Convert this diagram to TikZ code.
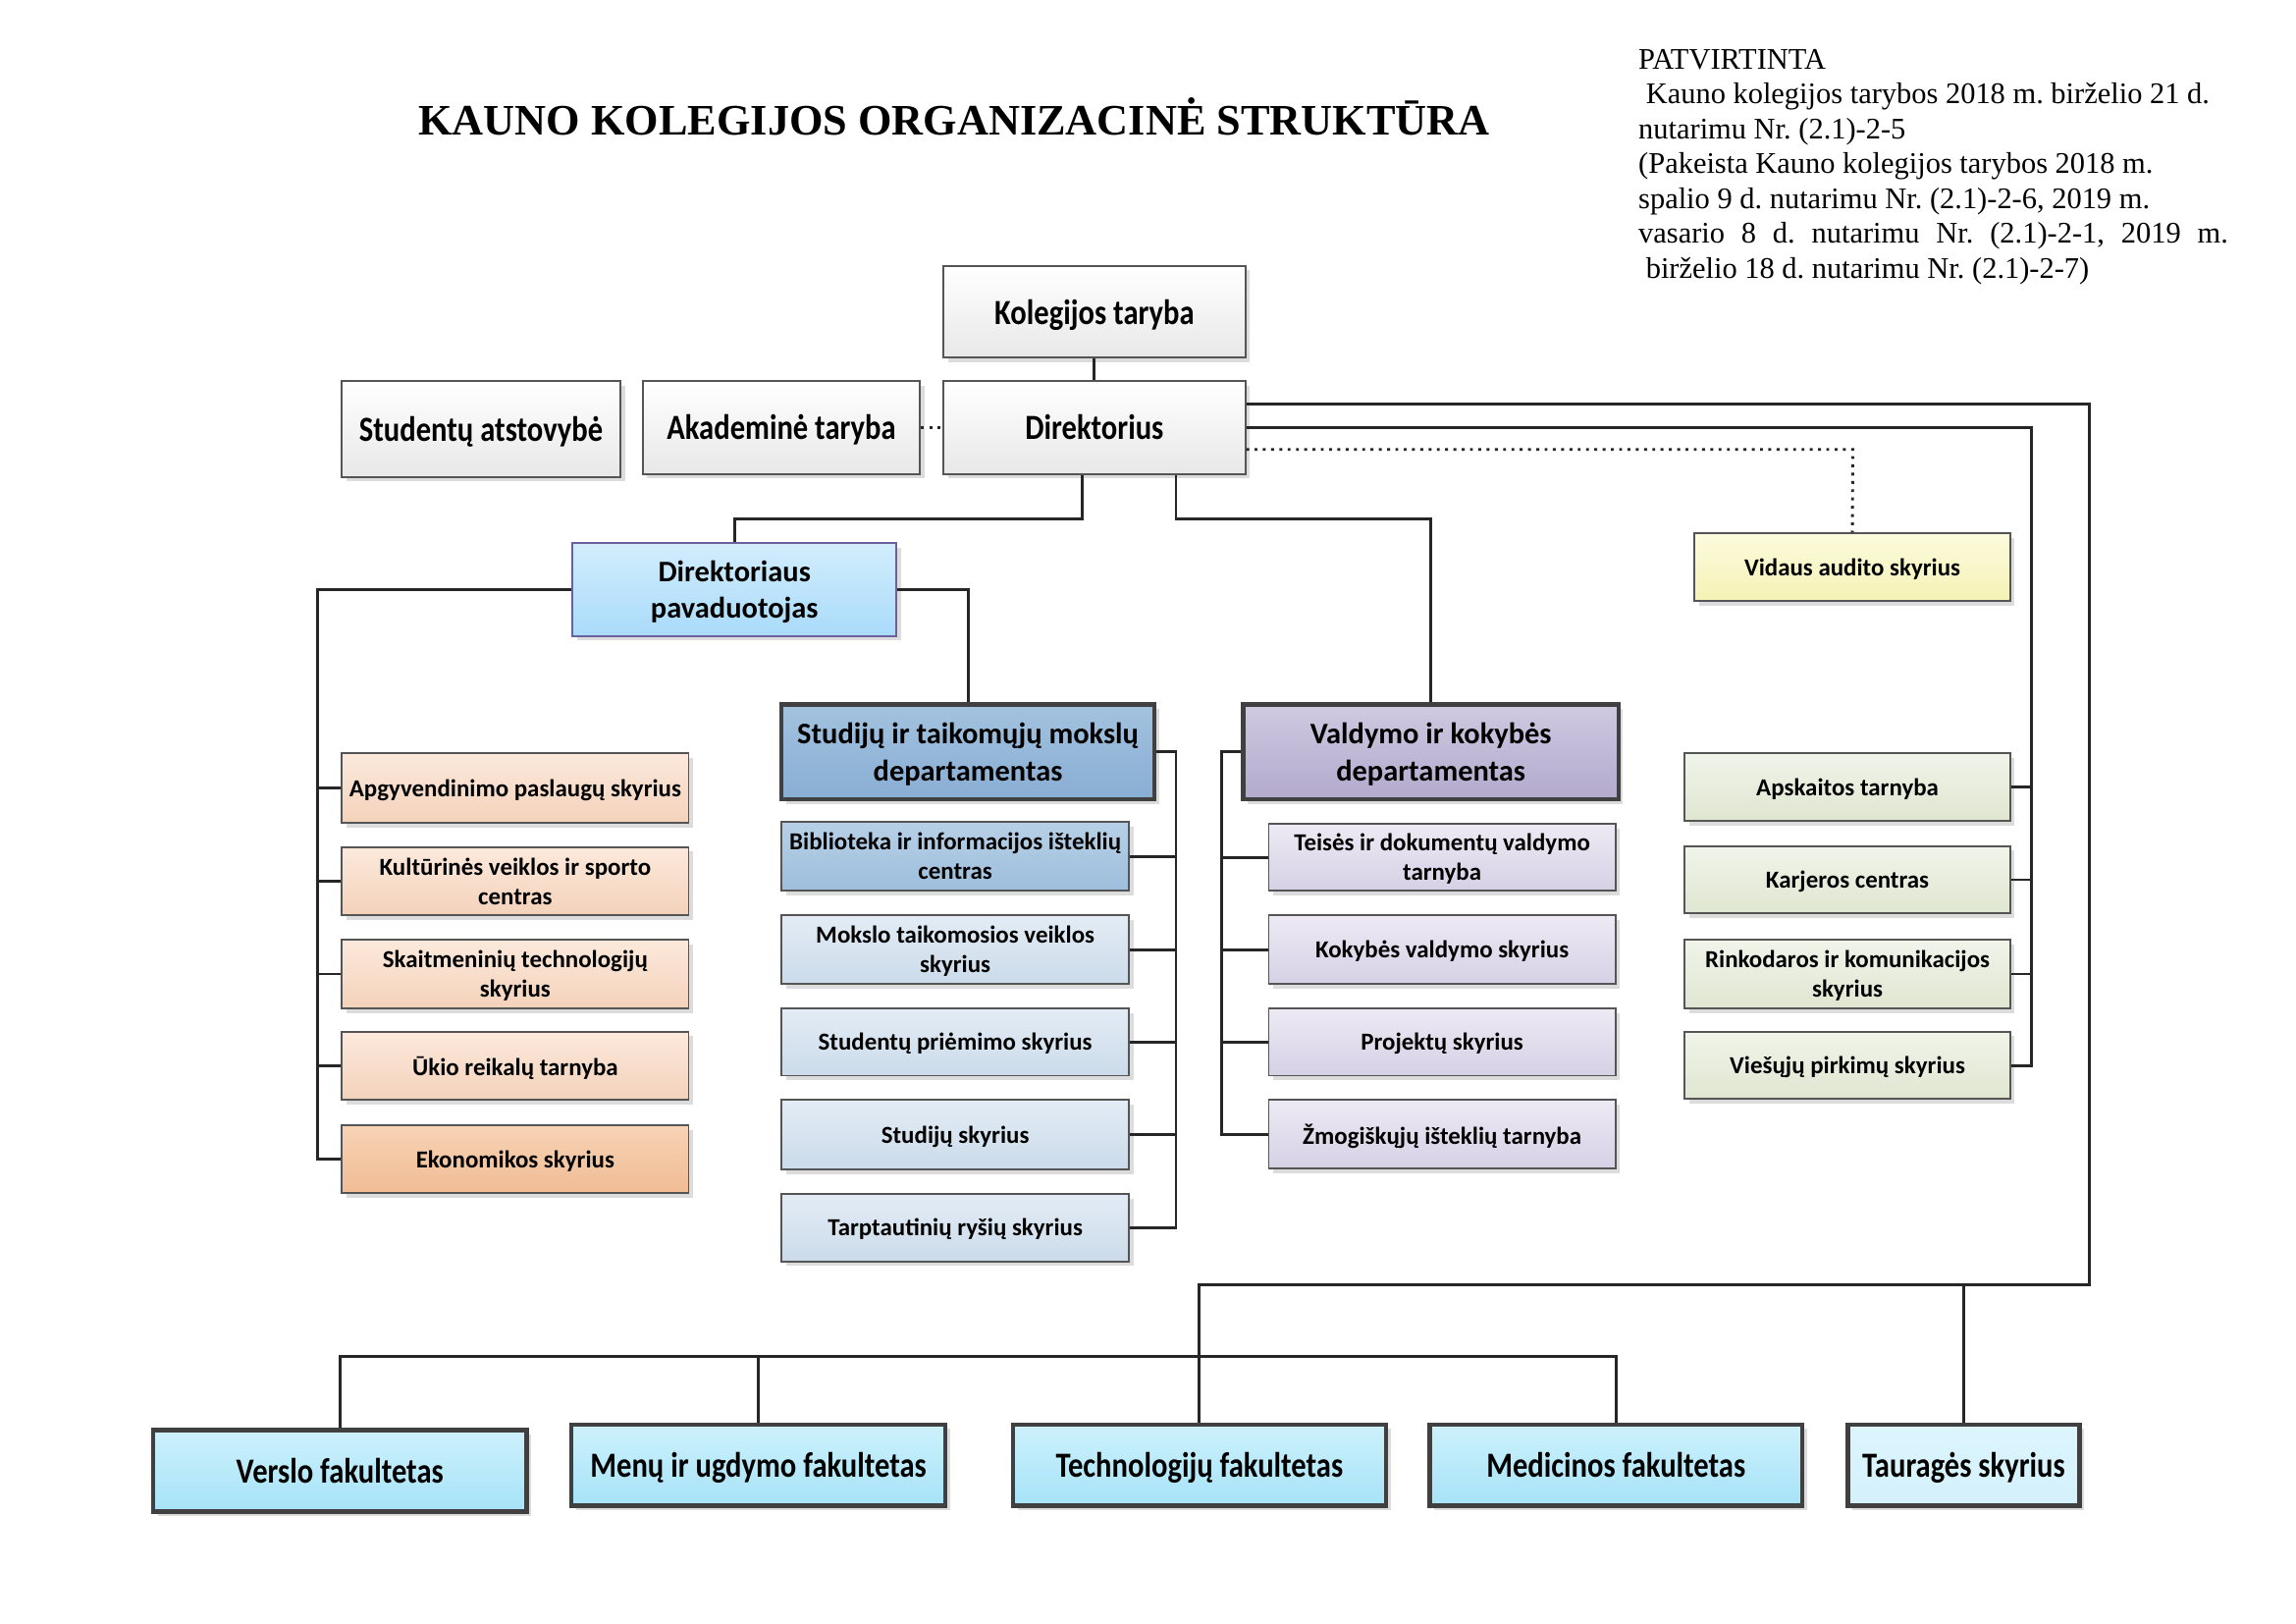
\documentclass[tikz,border=0pt]{standalone}
\usepackage{fontspec}
\setmainfont{Liberation Serif}
\newfontfamily\calfont{Carlito}
\newfontfamily\calcond[FakeStretch=0.85]{Carlito}
\usetikzlibrary{shadows,calc}
\newcommand{\pxu}{0.12635mm}
\newcommand{\boxnode}[7]{\node[#2, minimum width={(#5-#3)*\pxu}, minimum height={(#6-#4)*\pxu}] (#1) at ({(#3+#5)/2},{(#4+#6)/2}) {#7};}
\definecolor{bordc}{HTML}{555555}
\definecolor{HTML6E5FA0}{HTML}{6E5FA0}
\definecolor{HTMLD2EDFC}{HTML}{D2EDFC}
\definecolor{HTMLA9DBFA}{HTML}{A9DBFA}
\definecolor{HTMLA3C2DF}{HTML}{A3C2DF}
\definecolor{HTML88AED3}{HTML}{88AED3}
\definecolor{HTMLCFC9E1}{HTML}{CFC9E1}
\definecolor{HTMLB3AACD}{HTML}{B3AACD}
\definecolor{HTMLB7D0E7}{HTML}{B7D0E7}
\definecolor{HTML9DBEDC}{HTML}{9DBEDC}
\definecolor{HTMLE3ECF5}{HTML}{E3ECF5}
\definecolor{HTMLCBDBEA}{HTML}{CBDBEA}
\definecolor{HTMLEDEAF4}{HTML}{EDEAF4}
\definecolor{HTMLD6D0E5}{HTML}{D6D0E5}
\definecolor{HTMLFCE9DC}{HTML}{FCE9DC}
\definecolor{HTMLF4D2BA}{HTML}{F4D2BA}
\definecolor{HTMLF7D3B5}{HTML}{F7D3B5}
\definecolor{HTMLF0BC94}{HTML}{F0BC94}
\definecolor{HTMLF1F4EA}{HTML}{F1F4EA}
\definecolor{HTMLDFE6D0}{HTML}{DFE6D0}
\definecolor{HTMLFCFBDD}{HTML}{FCFBDD}
\definecolor{HTMLF5F2B5}{HTML}{F5F2B5}
\definecolor{HTMLCDF1FC}{HTML}{CDF1FC}
\definecolor{HTMLA6E3F8}{HTML}{A6E3F8}
\definecolor{HTMLDDF5FD}{HTML}{DDF5FD}
\definecolor{HTMLD3F1FC}{HTML}{D3F1FC}
\tikzset{
  boxbase/.style={draw=bordc, line width=0.7pt, align=center, inner sep=1pt, text depth=0pt,
    drop shadow={shadow xshift=0.6mm, shadow yshift=-0.6mm, fill=black!30, opacity=0.45},
    font=\calfont\bfseries\fontsize{9}{10.8}\selectfont},
  boxW/.style={boxbase, top color=white, bottom color=black!9, font=\calcond\bfseries\fontsize{13}{15}\selectfont},
  boxDP/.style={boxbase, draw=HTML6E5FA0, top color=HTMLD2EDFC, bottom color=HTMLA9DBFA, font=\calfont\bfseries\fontsize{11}{13.5}\selectfont},
  boxSD/.style={boxbase, draw=black!75, line width=1.6pt, top color=HTMLA3C2DF, bottom color=HTML88AED3, font=\calfont\bfseries\fontsize{11}{13.5}\selectfont},
  boxVD/.style={boxbase, draw=black!75, line width=1.6pt, top color=HTMLCFC9E1, bottom color=HTMLB3AACD, font=\calfont\bfseries\fontsize{11}{13.5}\selectfont},
  boxBib/.style={boxbase, top color=HTMLB7D0E7, bottom color=HTML9DBEDC},
  boxS/.style={boxbase, top color=HTMLE3ECF5, bottom color=HTMLCBDBEA},
  boxV/.style={boxbase, top color=HTMLEDEAF4, bottom color=HTMLD6D0E5},
  boxO/.style={boxbase, top color=HTMLFCE9DC, bottom color=HTMLF4D2BA},
  boxE/.style={boxbase, top color=HTMLF7D3B5, bottom color=HTMLF0BC94},
  boxG/.style={boxbase, top color=HTMLF1F4EA, bottom color=HTMLDFE6D0},
  boxY/.style={boxbase, top color=HTMLFCFBDD, bottom color=HTMLF5F2B5},
  boxF/.style={boxbase, draw=black!75, line width=1.6pt, top color=HTMLCDF1FC, bottom color=HTMLA6E3F8, font=\calcond\bfseries\fontsize{13}{15}\selectfont},
  boxT/.style={boxF, top color=HTMLDDF5FD, bottom color=HTMLD3F1FC},
  conn/.style={draw=black!85, line width=1.05pt},
  dconn/.style={draw=black!85, line width=1.05pt, dotted},
}
\begin{document}
\begin{tikzpicture}[x=0.12635mm, y=-0.12635mm]
\fill[white] (0,0) rectangle (2350.75,1662.3);
\useasboundingbox (0,0) rectangle (2350.75,1662.3);

% title and header
\node[font=\bfseries\fontsize{16}{19}\selectfont, inner sep=0] (title) at (977,119) {KAUNO KOLEGIJOS ORGANIZACINĖ STRUKTŪRA};
\node[anchor=north west, inner sep=0, align=left, font=\fontsize{11}{12.82}\selectfont\frenchspacing] (hdr) at (1677,50) {PATVIRTINTA\\
\ Kauno kolegijos tarybos 2018 m. birželio 21 d.\\
nutarimu Nr. (2.1)-2-5\\
(Pakeista Kauno kolegijos tarybos 2018 m.\\
spalio 9 d. nutarimu Nr. (2.1)-2-6, 2019 m.\\
\makebox[217pt][s]{vasario 8 d. nutarimu Nr. (2.1)-2-1, 2019 m.}\\
\ birželio 18 d. nutarimu Nr. (2.1)-2-7)};

% top boxes
\boxnode{kt}{boxW}{966}{272}{1275}{366}{Kolegijos taryba}
\boxnode{dir}{boxW}{966}{390}{1275}{485}{Direktorius}
\boxnode{ak}{boxW}{658}{390}{942}{485}{Akademinė taryba}
\boxnode{sa}{boxW}{350}{390}{635}{488}{Studentų atstovybė}
\boxnode{dp}{boxDP}{586}{556}{918}{651}{Direktoriaus\\pavaduotojas}
\boxnode{sd}{boxSD}{800}{721}{1182}{818}{Studijų ir taikomųjų mokslų\\departamentas}
\boxnode{vd}{boxVD}{1273}{721}{1657}{818}{Valdymo ir kokybės\\departamentas}
\boxnode{vid}{boxY}{1735}{546}{2058}{615}{Vidaus audito skyrius}

% orange column
\boxnode{o1}{boxO}{350}{771}{705}{842}{Apgyvendinimo paslaugų skyrius}
\boxnode{o2}{boxO}{350}{867}{705}{937}{Kultūrinės veiklos ir sporto\\centras}
\boxnode{o3}{boxO}{350}{962}{705}{1032}{Skaitmeninių technologijų\\skyrius}
\boxnode{o4}{boxO}{350}{1056}{705}{1126}{Ūkio reikalų tarnyba}
\boxnode{o5}{boxE}{350}{1152}{705}{1221}{Ekonomikos skyrius}

% study column
\boxnode{s1}{boxBib}{800}{841}{1156}{912}{Biblioteka ir informacijos išteklių\\centras}
\boxnode{s2}{boxS}{800}{937}{1156}{1007}{Mokslo taikomosios veiklos\\skyrius}
\boxnode{s3}{boxS}{800}{1032}{1156}{1101}{Studentų priėmimo skyrius}
\boxnode{s4}{boxS}{800}{1126}{1156}{1197}{Studijų skyrius}
\boxnode{s5}{boxS}{800}{1222}{1156}{1291}{Tarptautinių ryšių skyrius}

% management column
\boxnode{v1}{boxV}{1299}{843}{1654}{912}{Teisės ir dokumentų valdymo\\tarnyba}
\boxnode{v2}{boxV}{1299}{937}{1654}{1007}{Kokybės valdymo skyrius}
\boxnode{v3}{boxV}{1299}{1032}{1654}{1101}{Projektų skyrius}
\boxnode{v4}{boxV}{1299}{1126}{1654}{1196}{Žmogiškųjų išteklių tarnyba}

% green column
\boxnode{g1}{boxG}{1725}{771}{2058}{840}{Apskaitos tarnyba}
\boxnode{g2}{boxG}{1725}{866}{2058}{935}{Karjeros centras}
\boxnode{g3}{boxG}{1725}{962}{2058}{1032}{Rinkodaros ir komunikacijos\\skyrius}
\boxnode{g4}{boxG}{1725}{1056}{2058}{1125}{Viešųjų pirkimų skyrius}

% faculties
\boxnode{f1}{boxF}{157}{1464}{539}{1547}{Verslo fakultetas}
\boxnode{f2}{boxF}{585}{1458}{968}{1541}{Menų ir ugdymo fakultetas}
\boxnode{f3}{boxF}{1037}{1458}{1419}{1541}{Technologijų fakultetas}
\boxnode{f4}{boxF}{1464}{1458}{1845}{1541}{Medicinos fakultetas}
\boxnode{f5}{boxT}{1892}{1458}{2129}{1541}{Tauragės skyrius}

% junction coordinates
\coordinate (j1) at (1108,531);
\coordinate (j2) at (1204,531);
\coordinate (lbus) at (325,0);
\coordinate (sbus) at (1204,0);
\coordinate (vbus) at (1251,0);
\coordinate (gbus) at (2080,0);
\coordinate (r1) at (2139,414);
\coordinate (r3) at (1897,460);
\coordinate (obus) at (2139,1315);
\coordinate (tbus) at (1228,1315);
\coordinate (fb) at (0,1388);

% connectors
\draw[conn] (kt.south) -- (dir.north);
\draw[dconn] (ak.east) -- (dir.west);
\draw[conn] (dir.south -| j1) -- (j1) -| (dp.north);
\draw[conn] (dir.south -| j2) -- (j2) -| (vd.north);
\draw[conn] (dp.east) -| (sd.north);
\draw[conn] (dp.west) -- (dp.west -| lbus) -- (lbus |- o5.west) -- (o5.west);
\foreach \i in {1,2,3,4} {\draw[conn] (lbus |- o\i.west) -- (o\i.west);}
\draw[conn] (sd.east) -- (sd.east -| sbus) -- (sbus |- s5.east) -- (s5.east);
\foreach \i in {1,2,3,4} {\draw[conn] (sbus |- s\i.east) -- (s\i.east);}
\draw[conn] (vd.west) -- (vd.west -| vbus) -- (vbus |- v4.west) -- (v4.west);
\foreach \i in {1,2,3} {\draw[conn] (vbus |- v\i.west) -- (v\i.west);}
\draw[conn] (dir.east) -- (dir.east -| gbus) -- (gbus |- g4.east) -- (g4.east);
\foreach \i in {1,2,3} {\draw[conn] (gbus |- g\i.east) -- (g\i.east);}
\draw[dconn] (dir.east |- r3) -- (r3) -- (vid.north);
\draw[conn] (dir.east |- r1) -- (r1) -- (obus) -- (tbus) -- (f3.north);
\draw[conn] (f5.north) -- (f5.north |- obus);
\draw[conn] (f1.north) -- (f1.north |- fb) -- (f4.north |- fb) -- (f4.north);
\draw[conn] (f2.north) -- (f2.north |- fb);
\end{tikzpicture}
\end{document}
